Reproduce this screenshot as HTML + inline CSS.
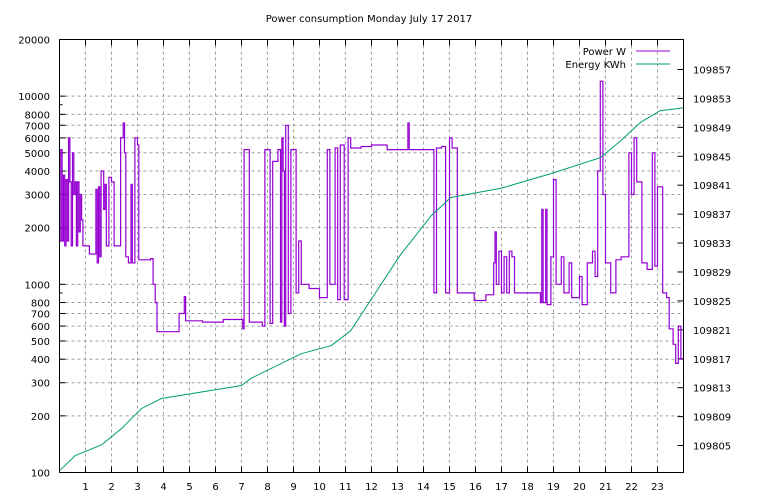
<!DOCTYPE html>
<html><head><meta charset="utf-8"><style>
html,body{margin:0;padding:0;background:#fff;}
svg{display:block;font-family:"DejaVu Sans","Liberation Sans",sans-serif;font-size:10px;}
</style></head><body>
<svg id="chart" width="768" height="500" xmlns="http://www.w3.org/2000/svg">
<text x="369" y="22" text-anchor="middle">Power consumption Monday July 17 2017</text>
<g id="grid"></g>
<g id="axes"></g>
<path id="power" fill="none" stroke="#9400d3" stroke-width="1.2"/>
<path id="energy" fill="none" stroke="#009e73" stroke-width="1"/>
<g>
<text x="626" y="55" text-anchor="end">Power W</text>
<line x1="636" y1="51" x2="670" y2="51" stroke="#9400d3"/>
<text x="626" y="68" text-anchor="end">Energy KWh</text>
<line x1="636" y1="64" x2="670" y2="64" stroke="#009e73"/>
</g>
<rect x="59.5" y="39.5" width="624" height="433" fill="none" stroke="#000"/>
</svg>
<script>
const xTicks=[1,2,3,4,5,6,7,8,9,10,11,12,13,14,15,16,17,18,19,20,21,22,23];
const yTicks=[100,200,300,400,500,600,700,800,1000,2000,3000,4000,5000,6000,7000,8000,10000,20000];
const yMinor=[900,9000];
const y2Ticks=[109805,109809,109813,109817,109821,109825,109829,109833,109837,109841,109845,109849,109853,109857];
const powerHours=[0,0.05,0.1,0.15,0.2,0.25,0.3,0.35,0.4,0.45,0.5,0.55,0.6,0.65,0.7,0.75,0.8,0.85,0.9,1.15,1.3,1.4,1.45,1.5,1.55,1.6,1.7,1.75,1.8,1.9,2.0,2.1,2.35,2.45,2.5,2.55,2.65,2.75,2.8,2.9,3.0,3.05,3.5,3.6,3.68,3.75,4.6,4.8,4.85,5.5,6.3,7.05,7.1,7.3,7.8,7.9,8.1,8.2,8.4,8.5,8.55,8.6,8.65,8.7,8.8,8.9,9.1,9.2,9.3,9.6,10.0,10.3,10.4,10.6,10.7,10.8,10.95,11.1,11.2,11.6,12.0,12.6,13.4,13.45,14.2,14.4,14.5,14.7,14.85,15.0,15.1,15.3,15.95,16.4,16.7,16.75,16.8,16.9,17.0,17.1,17.2,17.3,17.4,17.5,18.4,18.5,18.55,18.6,18.7,18.75,18.9,19.0,19.1,19.3,19.4,19.6,19.7,20.0,20.1,20.3,20.5,20.6,20.7,20.8,20.9,21.0,21.2,21.4,21.6,21.9,22.0,22.1,22.2,22.4,22.6,22.8,22.9,23.0,23.2,23.35,23.45,23.6,23.7,23.8,23.9,24];
const powerWatts=[1700,5200,1700,3800,1600,3600,1700,6000,3500,1600,5000,3000,3500,1600,3500,1900,3000,2200,1600,1450,1450,3200,1300,3300,1400,4000,2500,3400,1600,3700,3500,1600,6000,7200,5000,1400,1300,3400,1300,6000,5500,1350,1370,1000,800,560,700,860,640,630,650,580,5200,630,600,5200,620,4500,5200,630,6000,4000,600,7000,700,5200,900,1700,1000,950,850,5200,1000,5300,830,5500,830,6000,5300,5400,5500,5200,7200,5200,5200,900,5300,5400,900,6000,5300,900,820,880,1300,1900,1000,1500,900,1400,900,1500,1400,900,900,800,2500,800,2500,780,1400,3600,1000,1400,900,1300,850,1100,780,1300,1500,1100,4000,12000,3000,1300,900,1350,1400,5000,3000,6000,3500,1300,1200,5000,1250,3300,900,850,580,480,380,600,400,400];
const energyHours=[0,0.6,1.62,2.4,3.15,3.92,7.0,7.37,9.3,10.45,11.2,13.1,14.3,15.05,17.0,18.9,20.8,21.6,22.35,23.1,24];
const energyKwh=[109801.5,109803.6,109805.1,109807.4,109810.1,109811.5,109813.3,109814.3,109817.7,109818.8,109820.9,109831.3,109836.8,109839.3,109840.6,109842.6,109844.8,109847.2,109849.7,109851.3,109851.7];

const L=59.5,R=683.5,T=39.5,B=472.5;
const xs=h=>L+(R-L)*h/24;
const ys=v=>B-(B-T)*Math.log10(v/100)/Math.log10(200);
const y2=v=>B-(B-T)*(v-109801.27)/(109861.15-109801.27);
const NS="http://www.w3.org/2000/svg";
function mk(tag,attrs,parent){const e=document.createElementNS(NS,tag);for(const k in attrs)e.setAttribute(k,attrs[k]);parent.appendChild(e);return e;}
const grid=document.getElementById('grid'),axes=document.getElementById('axes');
xTicks.forEach(h=>{
  const x=xs(h);
  const g=mk('line',{x1:x,x2:x,y1:T,y2:B,stroke:'#a0a0a0','stroke-dasharray':'3,3'},grid);
  
  
  const t1=mk('line',{x1:x,x2:x,y1:B,y2:B-6,stroke:'#000'},axes);
  
  
  const t2=mk('line',{x1:x,x2:x,y1:T,y2:T+6,stroke:'#000'},axes);
  
  
  const lb=mk('text',{x:x,y:490,'text-anchor':'middle'},axes);lb.textContent=h;
  
  
});
yTicks.forEach(v=>{
  const y=ys(v);
  if(v>100&&v<20000){const g=mk('line',{x1:L,x2:R,y1:y,y2:y,stroke:'#a0a0a0','stroke-dasharray':'3,3'},grid);
  
  }
  const t=mk('line',{x1:L,x2:L+6,y1:y,y2:y,stroke:'#000'},axes);
  
  
  const lb=mk('text',{x:50,y:y+4,'text-anchor':'end'},axes);lb.textContent=v;
  
  
});
yMinor.forEach(v=>{
  const y=ys(v);
  const t=mk('line',{x1:L,x2:L+3,y1:y,y2:y,stroke:'#000'},axes);
  
  
});
y2Ticks.forEach(v=>{
  const y=y2(v);
  const t=mk('line',{x1:R,x2:R-6,y1:y,y2:y,stroke:'#000'},axes);
  
  
  const lb=mk('text',{x:693,y:y+4,'text-anchor':'start'},axes);lb.textContent=v;
  
  
});
let d='';
for(let i=0;i<powerHours.length;i++){
  const x=xs(powerHours[i]).toFixed(1),y=ys(powerWatts[i]).toFixed(1);
  if(i===0)d+='M'+x+','+y;else d+='H'+x+'V'+y;
}
document.getElementById('power').setAttribute('d',d);
let e='';
for(let i=0;i<energyHours.length;i++){
  e+=(i?'L':'M')+xs(energyHours[i]).toFixed(1)+','+y2(energyKwh[i]).toFixed(1);
}
document.getElementById('energy').setAttribute('d',e);
</script>
</body></html>
